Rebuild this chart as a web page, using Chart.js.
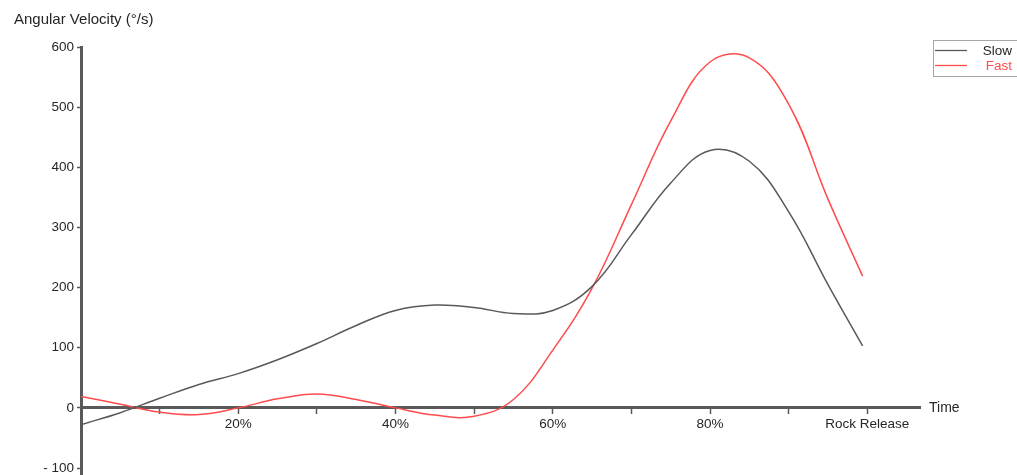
<!DOCTYPE html>
<html>
<head>
<meta charset="utf-8">
<script src="https://cdn.jsdelivr.net/npm/chart.js@4.4.1/dist/chart.umd.min.js"></script>
<style>
html,body{margin:0;padding:0;background:#fff;}
#wrap{width:1017px;height:475px;position:relative;}
</style>
</head>
<body>
<div id="wrap"><canvas id="c" width="1017" height="475"></canvas></div>
<script>
// Time as % of the delivery (100 = rock release)
const timePct    = [0,5,10,15,20,25,30,35,40,45,50,55,60,65,70,75,80,85,90,95,99.4];
const slowValues = [-28,-8,16,39,57,80,107,137,162,171,167,157,162,202,288,374,428,410,326,205,103];
const fastValues = [19,6,-7,-11,0,15,23,14,0,-12,-14,14,96,199,338,477,575,582,505,347,219];
const seriesNames = ['Slow','Fast'];
const xTickLabels = {20:'20%',40:'40%',60:'60%',80:'80%',100:'Rock Release'};
const yTitle = 'Angular Velocity (°/s)';
const xTitle = 'Time';

const FONT = "'Liberation Sans', Arial, sans-serif";
const AXIS = '#595959';
const TXT = '#262626';

function pts(xs, vals){ return vals.map((v,i)=>({x:xs[i], y:v})); }

const overlay = {
  id:'overlay',
  afterDraw(chart){
    const ctx = chart.ctx;
    ctx.save();
    ctx.fillStyle = TXT;
    ctx.textBaseline = 'middle';
    ctx.textAlign = 'left';
    ctx.font = '15px ' + FONT;
    ctx.fillText(yTitle, 14, 20);
    ctx.font = '14px ' + FONT;
    const ys = chart.scales.y;
    ctx.fillText(xTitle, 929, ys.getPixelForValue(0));
    // legend
    ctx.font = '13.5px ' + FONT;
    const bx = 933, by = 40, bw = 90, bh = 36;
    ctx.strokeStyle = '#a6a6a6';
    ctx.lineWidth = 1;
    ctx.strokeRect(bx+0.5, by+0.5, bw, bh);
    chart.data.datasets.forEach((ds,i)=>{
      const yy = by + 10 + i*15;
      ctx.strokeStyle = ds.borderColor;
      ctx.lineWidth = 1.3;
      ctx.beginPath(); ctx.moveTo(935, yy+0.5); ctx.lineTo(967, yy+0.5); ctx.stroke();
      ctx.fillStyle = i===0 ? TXT : ds.borderColor;
      ctx.textAlign = 'right';
      ctx.fillText(ds.label, 1012, yy+1);
    });
    ctx.restore();
  }
};

new Chart(document.getElementById('c'), {
  type:'line',
  data:{
    datasets:[
      {label:seriesNames[0], data:pts(timePct, slowValues), borderColor:'#595959', borderWidth:1.5, pointRadius:0, tension:0.4, fill:false},
      {label:seriesNames[1], data:pts(timePct, fastValues), borderColor:'#ff4b4b', borderWidth:1.5, pointRadius:0, tension:0.4, fill:false}
    ]
  },
  options:{
    responsive:false,
    animation:false,
    events:[],
    layout:{padding:{top:47,right:97,bottom:0,left:0}},
    plugins:{legend:{display:false}, tooltip:{enabled:false}},
    scales:{
      x:{
        type:'linear',
        position:{y:0},
        min:0, max:106.7,
        afterFit(s){ s.height = 0; s.paddingLeft = 0; s.paddingRight = 0; },
        border:{display:true,color:AXIS,width:3},
        grid:{drawOnChartArea:false, drawTicks:true, tickLength:5, tickColor:AXIS, tickWidth:1.5},
        ticks:{
          stepSize:10, includeBounds:false, autoSkip:false, maxRotation:0, padding:3,
          color:TXT, font:{family:FONT,size:13.5},
          callback:(v)=> xTickLabels[Math.round(v)] || ''
        }
      },
      y:{
        type:'linear',
        min:-111.6, max:600,
        afterFit(s){ s.width = 81; s.paddingTop = 0; s.paddingBottom = 0; },
        border:{display:true,color:AXIS,width:3},
        grid:{drawOnChartArea:false, drawTicks:true, tickLength:4, tickColor:AXIS, tickWidth:1.5},
        ticks:{
          stepSize:100, includeBounds:false, padding:3,
          color:TXT, font:{family:FONT,size:13.5},
          callback:(v)=> v<0 ? '- ' + Math.abs(v) : String(v)
        }
      }
    }
  },
  plugins:[overlay]
});
</script>
</body>
</html>
